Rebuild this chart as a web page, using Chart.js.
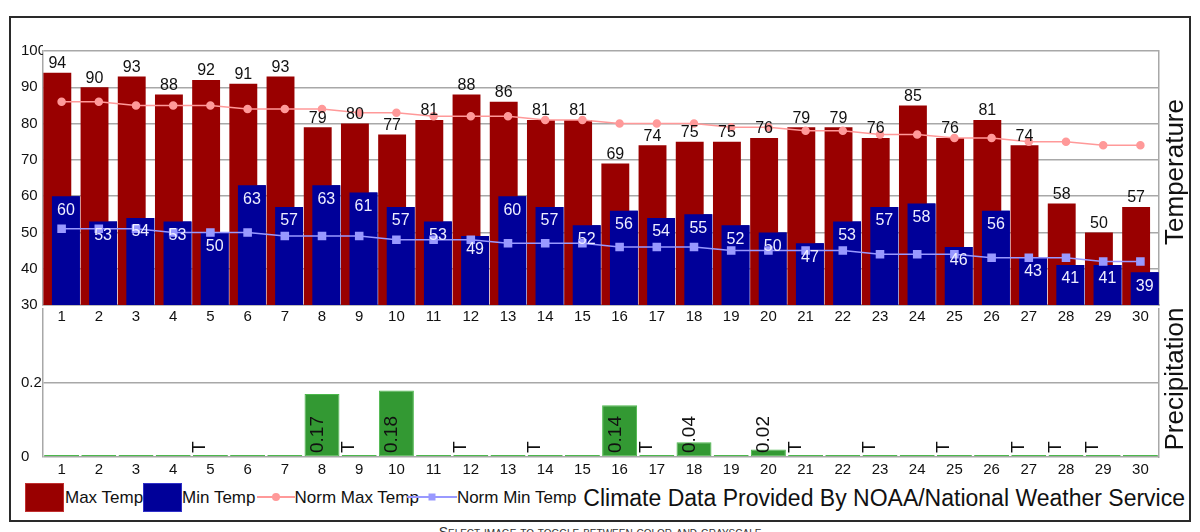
<!DOCTYPE html>
<html>
<head>
<meta charset="utf-8">
<script src="https://cdn.jsdelivr.net/npm/chart.js@4.4.1/dist/chart.umd.min.js"></script>
<style>
html,body{margin:0;padding:0;background:#fff;width:1200px;height:532px;overflow:hidden;font-family:'Liberation Sans',Arial,sans-serif;}
#frame{position:absolute;left:9px;top:16px;width:1178px;height:502px;border:2px solid #2a2a2a;}
canvas{position:absolute;left:0;}
#cTemp{top:0;}
#cPrec{top:290px;}
.ttl{position:absolute;font-size:26px;line-height:26px;white-space:nowrap;color:#111;transform:translate(-50%,-50%) rotate(-90deg);}
#legend{position:absolute;left:25px;top:483px;height:29px;display:flex;align-items:center;font-size:17px;color:#111;white-space:nowrap;}
.box{width:39px;height:29px;box-sizing:border-box;}
.lsw{position:relative;width:38px;height:29px;}
.lsw .ln{position:absolute;left:0;right:0;top:13px;height:2px;}
.lsw .mk{position:absolute;left:50%;top:14px;transform:translate(-50%,-50%);}
#source{position:absolute;right:15px;top:484px;font-size:23px;line-height:28px;color:#111;white-space:nowrap;}
#note{position:absolute;left:0;width:1200px;top:524px;text-align:center;font-size:14px;font-variant:small-caps;color:#333;}
</style>
</head>
<body>
<div id="frame"></div>
<canvas id="cTemp" width="1200" height="330"></canvas>
<canvas id="cPrec" width="1200" height="190"></canvas>
<div class="ttl" style="left:1174px;top:172px;">Temperature</div>
<div class="ttl" style="left:1174px;top:379px;">Precipitation</div>
<div id="legend"></div>
<div id="source">Climate Data Provided By NOAA/National Weather Service</div>
<div id="note">Select image to toggle between color and grayscale</div>
<script>
// ---- data ----
const days = [1,2,3,4,5,6,7,8,9,10,11,12,13,14,15,16,17,18,19,20,21,22,23,24,25,26,27,28,29,30];
const maxTemp = [94,90,93,88,92,91,93,79,80,77,81,88,86,81,81,69,74,75,75,76,79,79,76,85,76,81,74,58,50,57];
const minTemp = [60,53,54,53,50,63,57,63,61,57,53,49,60,57,52,56,54,55,52,50,47,53,57,58,46,56,43,41,41,39];
const normMax = [86,86,85,85,85,84,84,84,83,83,82,82,82,81,81,80,80,80,79,79,78,78,77,77,76,76,75,75,74,74];
const normMin = [51,51,51,50,50,50,49,49,49,48,48,48,47,47,47,46,46,46,45,45,45,45,44,44,44,43,43,43,42,42];
const precip = [0,0,0,0,0,0,0,0.17,0,0.18,0,0,0,0,0,0.14,0,0.04,0,0.02,0,0,0,0,0,0,0,0,0,0];
const traceDays = [5,9,12,14,17,21,23,25,27,28,29];
const tempTicks = [30,40,50,60,70,80,90,100];
const precipTicks = [0,0.2];
const seriesNames = ['Max Temp','Min Temp','Norm Max Temp','Norm Min Temp'];

// ---- styles ----
const FONT = "'Liberation Sans', Arial, sans-serif";
const GRID = '#a8a8a8';
const C_MAX = '#990000', C_MIN = '#000099', C_NMAX = '#ff9999', C_NMIN = '#9999ff';
const C_PRE = '#339933', C_PRE_B = '#4cb84c';
Chart.defaults.font.family = FONT;
Chart.defaults.color = '#111';

const tickFont = {family: FONT, size: 15};

const valueLabels = {
  id: 'valueLabels',
  afterDatasetsDraw(chart) {
    const ctx = chart.ctx;
    chart.data.datasets.forEach((ds, i) => {
      if (!ds.valueLabel) return;
      const meta = chart.getDatasetMeta(i);
      const yScale = chart.scales[meta.yAxisID];
      meta.data.forEach((el, j) => {
        const v = ds.data[j];
        const p = el.getProps(['x','y'], true);
        ctx.save();
        if (ds.valueLabel === 'above') {
          ctx.font = '16px ' + FONT;
          ctx.fillStyle = '#111';
          ctx.textAlign = 'center';
          ctx.textBaseline = 'bottom';
          ctx.fillText(String(v), p.x, p.y - 1);
        } else if (ds.valueLabel === 'inside') {
          ctx.font = '16px ' + FONT;
          ctx.fillStyle = '#eeeeff';
          ctx.textAlign = 'center';
          ctx.textBaseline = 'top';
          ctx.fillText(String(v), p.x, p.y + 6);
        } else if (ds.valueLabel === 'precip') {
          let txt = null;
          if (v > 0) txt = v.toFixed(2);
          else if (traceDays.includes(days[j])) txt = 'T';
          if (txt) {
            const base = yScale.getPixelForValue(0);
            ctx.font = '19px ' + FONT;
            ctx.fillStyle = '#111';
            ctx.textAlign = 'left';
            ctx.textBaseline = 'alphabetic';
            ctx.translate(p.x + (txt === 'T' ? -5 : 1), base - 4);
            ctx.rotate(-Math.PI / 2);
            ctx.fillText(txt, 0, 0);
          }
        }
        ctx.restore();
      });
    });
  }
};

// draw Min Temp bars over Max Temp bars (Max Temp keeps the left slot)
const blueOnTop = {
  id: 'blueOnTop',
  afterDatasetDraw(chart, args) {
    if (args.index === 0) {
      const m = chart.getDatasetMeta(1);
      if (m.hidden) return;
      const a = chart.chartArea, ctx = chart.ctx;
      ctx.save();
      ctx.beginPath();
      ctx.rect(a.left, a.top, a.right - a.left, a.bottom - a.top);
      ctx.clip();
      m.controller.draw();
      ctx.restore();
    }
  }
};

new Chart(document.getElementById('cTemp'), {
  data: {
    labels: days,
    datasets: [
      {type:'bar', label: seriesNames[0], data: maxTemp, backgroundColor: C_MAX, order: 1,
       categoryPercentage: 0.46, barPercentage: 3.26, valueLabel: 'above'},
      {type:'bar', label: seriesNames[1], data: minTemp, backgroundColor: C_MIN, order: 2,
       categoryPercentage: 0.46, barPercentage: 3.26, valueLabel: 'inside'},
      {type:'line', label: seriesNames[2], data: normMax, borderColor: C_NMAX, backgroundColor: C_NMAX,
       borderWidth: 1.5, pointRadius: 3.5, pointStyle: 'circle', order: 0},
      {type:'line', label: seriesNames[3], data: normMin, borderColor: C_NMIN, backgroundColor: C_NMIN,
       borderWidth: 1.5, pointRadius: 5, pointStyle: 'rect', order: 0}
    ]
  },
  options: {
    responsive: false, animation: false, events: [],
    layout: {padding: {top: 51, left: 21, right: 41, bottom: 0}},
    plugins: {legend: {display: false}, tooltip: {enabled: false}},
    scales: {
      x: {type: 'category', offset: true,
          grid: {display: false, drawTicks: false},
          border: {display: true, color: GRID, width: 1.5},
          ticks: {font: tickFont, color: '#111', padding: 3, maxRotation: 0, autoSkip: false},
          afterFit(s) { s.height = 25; }},
      y: {min: 30, max: 100,
          afterBuildTicks(s) { s.ticks = tempTicks.map(v => ({value: v})); },
          ticks: {font: tickFont, color: '#111', crossAlign: 'far', padding: 0},
          grid: {color: GRID, lineWidth: 1.5, drawTicks: false},
          border: {display: true, color: GRID, width: 1.5},
          afterFit(s) { s.width = 22; }},
      yR: {position: 'right', min: 30, max: 100,
          ticks: {display: false}, grid: {display: false, drawTicks: false},
          border: {display: true, color: GRID, width: 1.5},
          afterFit(s) { s.width = 0; }}
    }
  },
  plugins: [blueOnTop, valueLabels]
});

new Chart(document.getElementById('cPrec'), {
  data: {
    labels: days,
    datasets: [
      {type:'bar', label: 'Precipitation', data: precip, backgroundColor: C_PRE, borderColor: C_PRE_B,
       borderWidth: 1, borderSkipped: false, minBarLength: 2, clip: false,
       categoryPercentage: 1, barPercentage: 0.94, valueLabel: 'precip'}
    ]
  },
  options: {
    responsive: false, animation: false, events: [],
    layout: {padding: {top: 19, left: 21, right: 41, bottom: 0}},
    plugins: {legend: {display: false}, tooltip: {enabled: false}},
    scales: {
      x: {type: 'category', offset: true,
          grid: {display: false, drawTicks: false},
          border: {display: false},
          ticks: {font: tickFont, color: '#111', padding: 4, maxRotation: 0, autoSkip: false},
          afterFit(s) { s.height = 23; }},
      y: {min: 0, max: 0.4,
          afterBuildTicks(s) { s.ticks = precipTicks.map(v => ({value: v})); },
          ticks: {font: tickFont, color: '#111', crossAlign: 'far', padding: 0},
          grid: {color: GRID, lineWidth: 1.5, drawTicks: false},
          border: {display: true, color: GRID, width: 1.5},
          afterFit(s) { s.width = 22; }},
      yR: {position: 'right', min: 0, max: 0.4,
          ticks: {display: false}, grid: {display: false, drawTicks: false},
          border: {display: true, color: GRID, width: 1.5},
          afterFit(s) { s.width = 0; }}
    }
  },
  plugins: [valueLabels]
});

// ---- legend ----
const legend = document.getElementById('legend');
function addBox(color, border) {
  const d = document.createElement('div');
  d.className = 'box';
  d.style.background = color;
  d.style.border = '1px solid ' + border;
  legend.appendChild(d);
}
function addLine(color, shape, ml, w) {
  const d = document.createElement('div');
  d.className = 'lsw';
  d.style.marginLeft = ml + 'px';
  d.style.width = w + 'px';
  const ln = document.createElement('div'); ln.className = 'ln'; ln.style.background = color;
  const mk = document.createElement('div'); mk.className = 'mk'; mk.style.background = color;
  if (shape === 'circle') { mk.style.width = '8px'; mk.style.height = '8px'; mk.style.borderRadius = '50%'; }
  else { mk.style.width = '7px'; mk.style.height = '7px'; }
  d.appendChild(ln); d.appendChild(mk);
  legend.appendChild(d);
}
function addText(t, ml) {
  const s = document.createElement('span');
  s.textContent = t;
  s.style.marginLeft = ml + 'px';
  legend.appendChild(s);
}
addBox(C_MAX, '#c03030'); addText(seriesNames[0], 1);
addBox(C_MIN, '#3030c8'); addText(seriesNames[1], 0);
addLine(C_NMAX, 'circle', 1, 38); addText(seriesNames[2], 0);
addLine(C_NMIN, 'rect', -12, 50); addText(seriesNames[3], 0);
</script>
</body>
</html>
